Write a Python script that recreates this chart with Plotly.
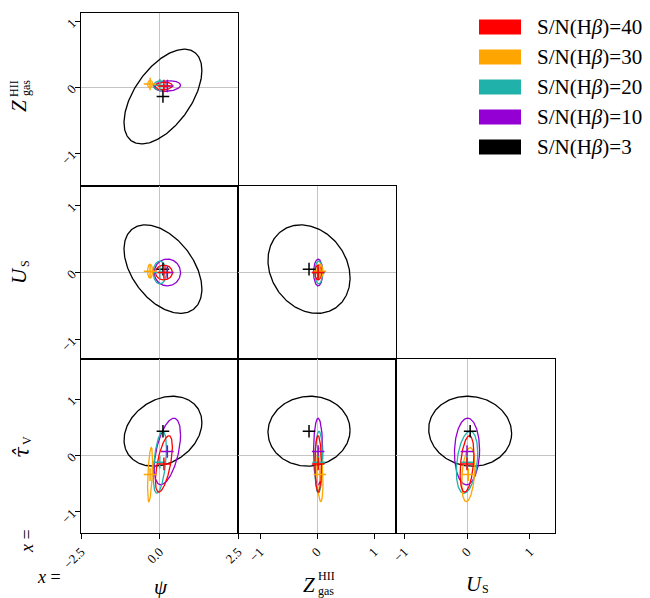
import numpy as np
import plotly.graph_objects as go

# page offset of the plot div (default body margin) and figure size
OFF = 8
W, H = 650 - OFF, 598 - OFF

# ---------------- data ----------------
sn_labels = ["S/N(H<i>β</i>)=40", "S/N(H<i>β</i>)=30", "S/N(H<i>β</i>)=20",
             "S/N(H<i>β</i>)=10", "S/N(H<i>β</i>)=3"]
sn_colors = ["#ff0000", "#ffa500", "#20b2aa", "#9400d3", "#000000"]

# means of the four parameters (psi, Z, U_S, tau_V) for each S/N
mean_psi = [0.14, -0.30, 0.01, 0.25, 0.11]
mean_Z = [0.02, 0.05, 0.03, 0.02, -0.14]
mean_U = [0.00, 0.02, 0.00, 0.00, 0.05]
mean_tau = [-0.15, -0.34, -0.12, 0.07, 0.43]

# 1-sigma widths
sig_psi = [0.27, 0.08, 0.21, 0.42, 1.24]
sig_Z = [0.057, 0.055, 0.068, 0.08, 0.72]
sig_U = [0.11, 0.105, 0.17, 0.20, 0.66]
sig_tau = [0.50, 0.48, 0.55, 0.59, 0.62]

# correlation coefficients
rho_psi_Z = [0.10, 0.10, 0.10, 0.15, 0.55]
rho_psi_U = [0.00, 0.00, 0.00, 0.00, -0.45]
rho_Z_U = [0.00, 0.00, 0.00, 0.00, -0.20]
rho_psi_tau = [0.60, 0.50, 0.45, 0.50, 0.25]
rho_Z_tau = [0.00, -0.30, 0.10, 0.00, 0.03]
rho_U_tau = [0.35, 0.30, 0.30, 0.05, -0.06]

# axis ticks
psi_ticks = [-2.5, 0.0, 2.5]
psi_ticktext = ["\u22122.5", "0.0", "2.5"]
unit_ticks = [-1, 0, 1]
unit_ticktext = ["\u22121", "0", "1"]

# ---------------- layout helpers ----------------
means = [mean_psi, mean_Z, mean_U, mean_tau]
sigs = [sig_psi, sig_Z, sig_U, sig_tau]
rhos = {(0, 1): rho_psi_Z, (0, 2): rho_psi_U, (1, 2): rho_Z_U,
        (0, 3): rho_psi_tau, (1, 3): rho_Z_tau, (2, 3): rho_U_tau}


def fx(x):
    return (x - OFF) / W


def fy(y):
    return 1 - (y - OFF) / H


col_px = [(81, 238), (238, 396), (396, 555)]
row_px = [(13, 186), (186, 359), (359, 533)]
x_ranges = {0: [-2.5, 2.5], 1: [-1.386, 1.386], 2: [-1.13, 1.40]}
y_ranges = {1: [-1.5, 1.13], 2: [-1.29, 1.29], 3: [-1.375, 1.71]}

panels = [(0, 0), (1, 0), (1, 1), (2, 0), (2, 1), (2, 2)]
draw_order = [4, 3, 2, 1, 0]

font_family = "Liberation Serif, DejaVu Serif, serif"
fig = go.Figure()
t = np.linspace(0, 2 * np.pi, 241)

for k, (r, c) in enumerate(panels):
    ax = "" if k == 0 else str(k + 1)
    px_i, py_i = c, r + 1
    rho_list = rhos[(px_i, py_i)]
    for i in draw_order:
        mx, my = means[px_i][i], means[py_i][i]
        sx, sy = sigs[px_i][i], sigs[py_i][i]
        rho = rho_list[i]
        x = mx + sx * np.cos(t)
        y = my + sy * (rho * np.cos(t) + np.sqrt(1 - rho ** 2) * np.sin(t))
        fig.add_trace(go.Scatter(x=x, y=y, mode="lines",
                                 line=dict(color=sn_colors[i], width=1.3),
                                 xaxis="x" + ax, yaxis="y" + ax,
                                 showlegend=False, hoverinfo="skip"))
    for i in draw_order:
        fig.add_trace(go.Scatter(x=[means[px_i][i]], y=[means[py_i][i]], mode="markers",
                                 marker=dict(symbol="cross-thin", size=9, color=sn_colors[i],
                                             line=dict(width=1.5, color=sn_colors[i])),
                                 xaxis="x" + ax, yaxis="y" + ax,
                                 showlegend=False, hoverinfo="skip"))

    bottom = (r == 2)
    left = (c == 0)
    x0, x1 = col_px[c]
    y0, y1 = row_px[r]
    xt = (psi_ticks, psi_ticktext) if c == 0 else (unit_ticks, unit_ticktext)
    yt = (unit_ticks, unit_ticktext)
    fig.layout["xaxis" + ax] = dict(
        domain=[fx(x0), fx(x1)], anchor="y" + ax, range=x_ranges[c], automargin=False,
        showline=True, mirror=True, linecolor="black", linewidth=1.2,
        showgrid=False, zeroline=True, zerolinecolor="#c4c4c4", zerolinewidth=1,
        ticks="outside" if bottom else "", ticklen=5, tickwidth=1, tickcolor="black",
        showticklabels=bottom, tickvals=xt[0], ticktext=xt[1], tickangle=-45,
        tickfont=dict(family=font_family, size=13, color="black"))
    fig.layout["yaxis" + ax] = dict(
        domain=[fy(y1), fy(y0)], anchor="x" + ax, range=y_ranges[r + 1], automargin=False,
        showline=True, mirror=True, linecolor="black", linewidth=1.2,
        showgrid=False, zeroline=True, zerolinecolor="#c4c4c4", zerolinewidth=1,
        ticks="outside" if left else "", ticklen=5, tickwidth=1, tickcolor="black",
        showticklabels=left, tickvals=yt[0], ticktext=yt[1], tickangle=-45,
        tickfont=dict(family=font_family, size=13, color="black"))

annotations = []


def ann(text, x, y, size, angle=0, xanchor="center", family=font_family):
    annotations.append(dict(text=text, x=fx(x), y=fy(y), xref="paper", yref="paper",
                            showarrow=False, xanchor=xanchor, yanchor="middle",
                            textangle=angle, borderpad=0,
                            font=dict(family=family, size=size, color="black")))


# x-axis titles
ann("<i>ψ</i>", 161, 587, 21)
ann("<i>Z</i>", 309, 585, 21)
ann("HII", 326, 576, 12)
ann("gas", 326, 591, 12)
ann("<i>U</i>", 474, 584, 21)
ann("S", 485, 589, 12)

# y-axis titles
ann("<i>Z</i>", 19, 106, 21, -90)
ann("HII", 14, 88, 12, -90)
ann("gas", 26, 88, 12, -90)
ann("<i>U</i>", 19, 275, 21, -90)
ann("S", 25, 264, 12, -90)
ann("<i>τ̂</i>", 22, 452, 20, -90, family="DejaVu Serif")
ann("V", 27, 441, 12, -90)

# stray labels
ann("<i>x</i> =", 27, 541, 18, -90)
ann("<i>x</i> =", 49, 577, 18)

# legend
shapes = []
leg_y = [27, 57, 87, 117, 147]
for i, lab in enumerate(sn_labels):
    yc = leg_y[i]
    shapes.append(dict(type="rect", xref="paper", yref="paper",
                       x0=fx(479), x1=fx(521), y0=fy(yc + 7.5), y1=fy(yc - 7.5),
                       fillcolor=sn_colors[i], line=dict(width=0)))
    ann(lab, 536, yc, 21, 0, "left")

fig.update_layout(width=W, height=H, autosize=False,
                  margin=dict(l=0, r=0, t=0, b=0, pad=0),
                  paper_bgcolor="white", plot_bgcolor="white",
                  annotations=annotations, shapes=shapes, showlegend=False)

fig.write_html("out.html")
